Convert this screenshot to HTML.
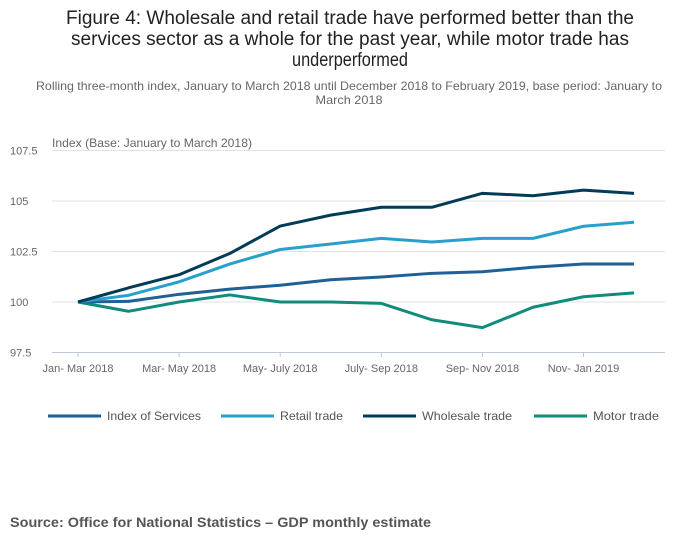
<!DOCTYPE html>
<html><head><meta charset="utf-8"><style>
body{margin:0;background:#fff;}
svg{display:block;font-family:"Liberation Sans",sans-serif;}
</style></head><body>
<svg width="700" height="549" viewBox="0 0 700 549">
<g fill="#222" font-size="19" text-anchor="middle">
<text x="350" y="24" textLength="568" lengthAdjust="spacingAndGlyphs">Figure 4: Wholesale and retail trade have performed better than the</text>
<text x="350" y="45" textLength="558" lengthAdjust="spacingAndGlyphs">services sector as a whole for the past year, while motor trade has</text>
<text x="350" y="66" textLength="116" lengthAdjust="spacingAndGlyphs">underperformed</text>
</g>
<g fill="#666" font-size="12" text-anchor="middle">
<text x="349" y="90" textLength="626" lengthAdjust="spacingAndGlyphs">Rolling three-month index, January to March 2018 until December 2018 to February 2019, base period: January to</text>
<text x="349" y="104" textLength="67" lengthAdjust="spacingAndGlyphs">March 2018</text>
</g>
<text x="52" y="147" font-size="12" fill="#666" textLength="200" lengthAdjust="spacingAndGlyphs">Index (Base: January to March 2018)</text>
<g id="grid"></g><g id="yt"></g><g id="xt"></g><g id="lines"></g><g id="legend"></g>
<text x="10" y="527" font-size="14" font-weight="bold" fill="#555" textLength="421" lengthAdjust="spacingAndGlyphs">Source: Office for National Statistics – GDP monthly estimate</text>
</svg>
<script>
const categories=["Jan- Mar 2018","","Mar- May 2018","","May- July 2018","","July- Sep 2018","","Sep- Nov 2018","","Nov- Jan 2019",""];
const yTicks=[97.5,100,102.5,105,107.5];
const seriesNames=["Index of Services","Retail trade","Wholesale trade","Motor trade"];
const seriesColors=["#206095","#27a0cc","#003c57","#118c7b"];
const indexOfServices=[100,100.03,100.38,100.64,100.83,101.1,101.24,101.42,101.5,101.72,101.88,101.88];
const retailTrade=[100,100.33,101.0,101.88,102.6,102.87,103.15,102.97,103.15,103.15,103.75,103.95];
const wholesaleTrade=[100,100.7,101.35,102.4,103.76,104.3,104.69,104.69,105.38,105.26,105.54,105.38];
const motorTrade=[100,99.54,100,100.35,100,100,99.93,99.12,98.73,99.74,100.26,100.45];
const allSeries=[indexOfServices,retailTrade,wholesaleTrade,motorTrade];
const NS="http://www.w3.org/2000/svg";
const x=i=>78+i*50.55;
const y=v=>302-(v-100)*20.2;
function mk(t,a,p){const e=document.createElementNS(NS,t);for(const k in a)e.setAttribute(k,a[k]);p.appendChild(e);return e;}
const grid=document.getElementById('grid'),yt=document.getElementById('yt'),xt=document.getElementById('xt');
yTicks.forEach(v=>{
 const l=mk('line',{x1:52,x2:665,y1:y(v),y2:y(v),stroke:v===97.5?'#bcc8d8':'#e2e2e2','stroke-width':1},grid);
 
 
 const t=mk('text',{x:10,y:y(v)+4,'font-size':11,fill:'#666'},yt);
 t.textContent=String(v);
 
 
});
categories.forEach((c,i)=>{
 if(!c)return;
 const tk=mk('line',{x1:x(i),x2:x(i),y1:352,y2:357,stroke:'#bcc8d8'},xt);
 
 
 const t=mk('text',{x:x(i),y:372,'font-size':11,fill:'#666','text-anchor':'middle'},xt);
 t.textContent=c;
 
 
});
const lines=document.getElementById('lines');
[3,0,1,2].forEach(s=>{
 const d=allSeries[s].map((v,i)=>(i?'L':'M')+x(i)+','+y(v)).join(' ');
 const p=mk('path',{d:d,fill:'none',stroke:seriesColors[s],'stroke-width':3,'stroke-linejoin':'round'},lines);
 
 
});
const legend=document.getElementById('legend');
const lx=[48,221,363,534];
const tw=[94,63,90,66];
seriesNames.forEach((n,s)=>{
 const g=mk('g',{},legend);
 
 
 mk('line',{x1:lx[s],x2:lx[s]+53,y1:416,y2:416,stroke:seriesColors[s],'stroke-width':3},g);
 const t=mk('text',{x:lx[s]+59,y:420,'font-size':12,fill:'#555',textLength:tw[s],lengthAdjust:'spacingAndGlyphs'},g);
 t.textContent=n;
});
</script>
</body></html>
